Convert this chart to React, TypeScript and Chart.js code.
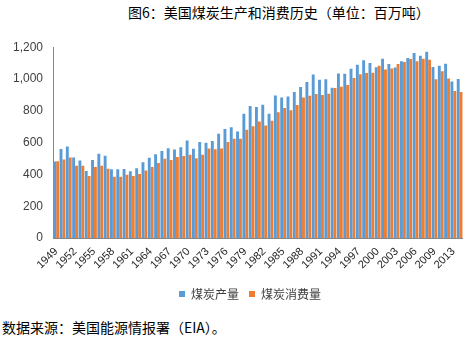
import React, { useEffect, useRef } from "react";
import { Chart, registerables } from "chart.js";

Chart.register(...registerables);

const years = [
  "1949", "1950", "1951", "1952", "1953", "1954", "1955", "1956", "1957", "1958",
  "1959", "1960", "1961", "1962", "1963", "1964", "1965", "1966", "1967", "1968",
  "1969", "1970", "1971", "1972", "1973", "1974", "1975", "1976", "1977", "1978",
  "1979", "1980", "1981", "1982", "1983", "1984", "1985", "1986", "1987", "1988",
  "1989", "1990", "1991", "1992", "1993", "1994", "1995", "1996", "1997", "1998",
  "1999", "2000", "2001", "2002", "2003", "2004", "2005", "2006", "2007", "2008",
  "2009", "2010", "2011", "2013", "2014",
];

const production = [
  481, 560, 576, 507, 488, 421, 491, 530, 518, 432,
  433, 434, 420, 439, 477, 504, 527, 547, 565, 557,
  571, 613, 561, 603, 599, 610, 655, 685, 697, 670,
  781, 830, 824, 838, 782, 896, 884, 890, 919, 950,
  981, 1029, 996, 998, 945, 1034, 1033, 1064, 1090, 1118,
  1100, 1074, 1128, 1094, 1072, 1112, 1132, 1163, 1147, 1172,
  1075, 1084, 1096, 985, 1000,
];

const consumption = [
  483, 494, 506, 455, 455, 390, 447, 455, 435, 386,
  386, 398, 390, 402, 424, 446, 472, 498, 491, 510,
  516, 523, 502, 524, 563, 558, 563, 604, 625, 625,
  681, 703, 733, 707, 737, 791, 818, 804, 837, 884,
  894, 905, 899, 908, 944, 951, 962, 1006, 1030, 1037,
  1039, 1084, 1060, 1066, 1095, 1107, 1126, 1112, 1128, 1121,
  998, 1049, 1003, 924, 918,
];

const seriesNames = ["煤炭产量", "煤炭消费量"];
const titleText = "图6：美国煤炭生产和消费历史（单位：百万吨）";
const sourceText = "数据来源：美国能源情报署（EIA）。";

const legendShift = {
  id: "legendShift",
  afterLayout(chart: any) {
    if (chart.legend) {
      chart.legend.left += 12;
      chart.legend.right += 12;
    }
  },
};

export default function App() {
  const ref = useRef<HTMLCanvasElement | null>(null);

  useEffect(() => {
    if (!ref.current) return;
    const chart = new Chart(ref.current, {
      type: "bar",
      data: {
        labels: years,
        datasets: [
          {
            label: seriesNames[0],
            data: production,
            backgroundColor: "#5B9BD5",
            categoryPercentage: 0.92,
            barPercentage: 1.0,
          },
          {
            label: seriesNames[1],
            data: consumption,
            backgroundColor: "#ED7D31",
            categoryPercentage: 0.92,
            barPercentage: 1.0,
          },
        ],
      },
      plugins: [legendShift],
      options: {
        animation: false,
        responsive: false,
        maintainAspectRatio: false,
        layout: { padding: { top: 5, right: 0, left: 0, bottom: 0 } },
        plugins: {
          title: { display: false },
          tooltip: { enabled: false },
          legend: {
            position: "bottom",
            labels: {
              boxWidth: 6,
              boxHeight: 6,
              padding: 10,
              color: "#404040",
              font: { family: "'Noto Sans CJK SC', sans-serif", size: 12 },
            },
          },
        },
        scales: {
          x: {
            grid: { display: false, drawTicks: false },
            border: { display: true, color: "#868686", width: 1 },
            ticks: {
              autoSkip: false,
              minRotation: 45,
              maxRotation: 45,
              padding: 7,
              color: "#262626",
              font: { family: "'Liberation Sans', Arial, sans-serif", size: 11 },
              callback: (_v: any, i: number) => (i % 3 === 0 ? years[i] : ""),
            },
            afterFit: (s: any) => {
              s.height = 40;
            },
          },
          y: {
            min: 0,
            max: 1200,
            grid: { display: false, drawTicks: false },
            border: { display: true, color: "#868686", width: 1 },
            ticks: {
              stepSize: 200,
              padding: 10,
              color: "#404040",
              font: { family: "'Liberation Sans', Arial, sans-serif", size: 12 },
              callback: (v: any) => Number(v).toLocaleString("en-US"),
            },
            afterFit: (s: any) => {
              s.width = 53;
            },
          },
        },
      },
    });
    return () => chart.destroy();
  }, []);

  return (
    <div
      style={{
        position: "absolute",
        left: 0,
        top: 0,
        width: 476,
        height: 344,
        background: "#ffffff",
        overflow: "hidden",
      }}
    >
      <div
        style={{
          position: "absolute",
          left: 128,
          top: 3,
          fontFamily: "'Noto Sans CJK SC', sans-serif",
          fontSize: 14,
          lineHeight: "18px",
          color: "#000",
          whiteSpace: "nowrap",
        }}
      >
        {titleText}
      </div>
      <canvas
        ref={ref}
        width={476}
        height={280}
        style={{ position: "absolute", left: 0, top: 30, width: 476, height: 280 }}
      />
      <div
        style={{
          position: "absolute",
          left: 2,
          top: 318,
          fontFamily: "'Noto Sans CJK SC', sans-serif",
          fontSize: 14,
          lineHeight: "18px",
          color: "#000",
          whiteSpace: "nowrap",
        }}
      >
        {sourceText}
      </div>
    </div>
  );
}
